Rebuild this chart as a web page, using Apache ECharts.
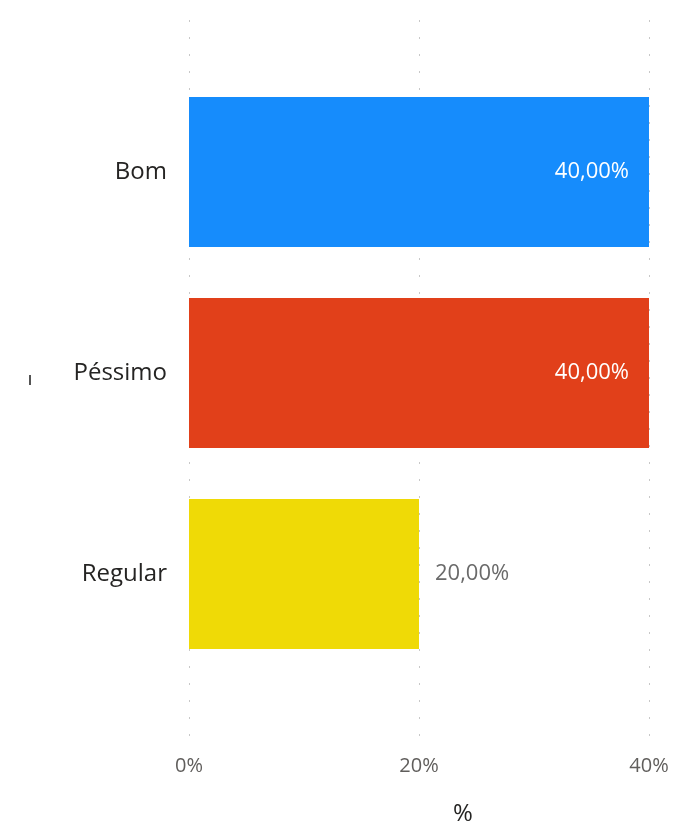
<!DOCTYPE html>
<html>
<head>
<meta charset="utf-8">
<script src="https://cdn.jsdelivr.net/npm/echarts@6/dist/echarts.min.js"></script>
<style>
  html, body { margin: 0; padding: 0; background: #fff; }
  #main { width: 677px; height: 831px; }
</style>
</head>
<body>
<div id="main"></div>
<script>
// dados do gráfico
var categorias = ["Bom", "Péssimo", "Regular"];
var valores = [40, 40, 20];
var cores = ["#168cfc", "#e1401a", "#efda06"];
var ticksX = [0, 20, 40];

var myChart = echarts.init(document.getElementById("main"));

function fmt(v) {
    return v.toFixed(2).replace(".", ",") + "%";
}

var dados = valores.map(function (v, i) {
    var dentro = v >= 30;
    return {
        value: v,
        itemStyle: { color: cores[i] },
        label: {
            position: dentro ? "insideRight" : "right",
            distance: dentro ? 20 : 16,
            color: dentro ? "#ffffff" : "#6a6a6a"
        }
    };
});

var option = {
    animation: false,
    textStyle: { fontFamily: "Open Sans" },
    grid: [
        // grade das linhas pontilhadas e rótulos do eixo
        { left: 189, right: 28, top: 20, bottom: 83 },
        // grade das barras
        { left: 189, right: 28, top: 71.5, bottom: 156.5 }
    ],
    xAxis: [
        {
            gridIndex: 0,
            type: "value",
            min: ticksX[0],
            max: ticksX[ticksX.length - 1],
            interval: 20,
            name: "%",
            nameLocation: "middle",
            nameGap: 58,
            nameTextStyle: { fontSize: 24, color: "#252423", padding: [0, 0, 0, 88] },
            axisLine: { show: false },
            axisTick: { show: false },
            axisLabel: {
                margin: 12,
                fontSize: 20,
                color: "#605e5c",
                formatter: function (v) { return v + "%"; }
            },
            splitLine: {
                show: true,
                lineStyle: { color: "#c8c8c8", width: 1, type: [2, 15] }
            }
        },
        {
            gridIndex: 1,
            type: "value",
            min: ticksX[0],
            max: ticksX[ticksX.length - 1],
            show: false
        }
    ],
    yAxis: [
        { gridIndex: 0, type: "category", data: categorias, show: false },
        {
            gridIndex: 1,
            type: "category",
            data: categorias,
            inverse: true,
            axisLine: { show: false },
            axisTick: { show: false },
            axisLabel: { margin: 22, fontSize: 24, color: "#252423" }
        }
    ],
    graphic: [
        { type: "rect", left: 29, top: 375, shape: { width: 2, height: 10 }, style: { fill: "#555" } }
    ],
    series: [
        {
            type: "bar",
            xAxisIndex: 1,
            yAxisIndex: 1,
            data: dados,
            barCategoryGap: "25.4%",
            label: {
                show: true,
                fontSize: 22,
                formatter: function (p) { return fmt(p.value); }
            }
        }
    ]
};

myChart.setOption(option);
</script>
</body>
</html>
